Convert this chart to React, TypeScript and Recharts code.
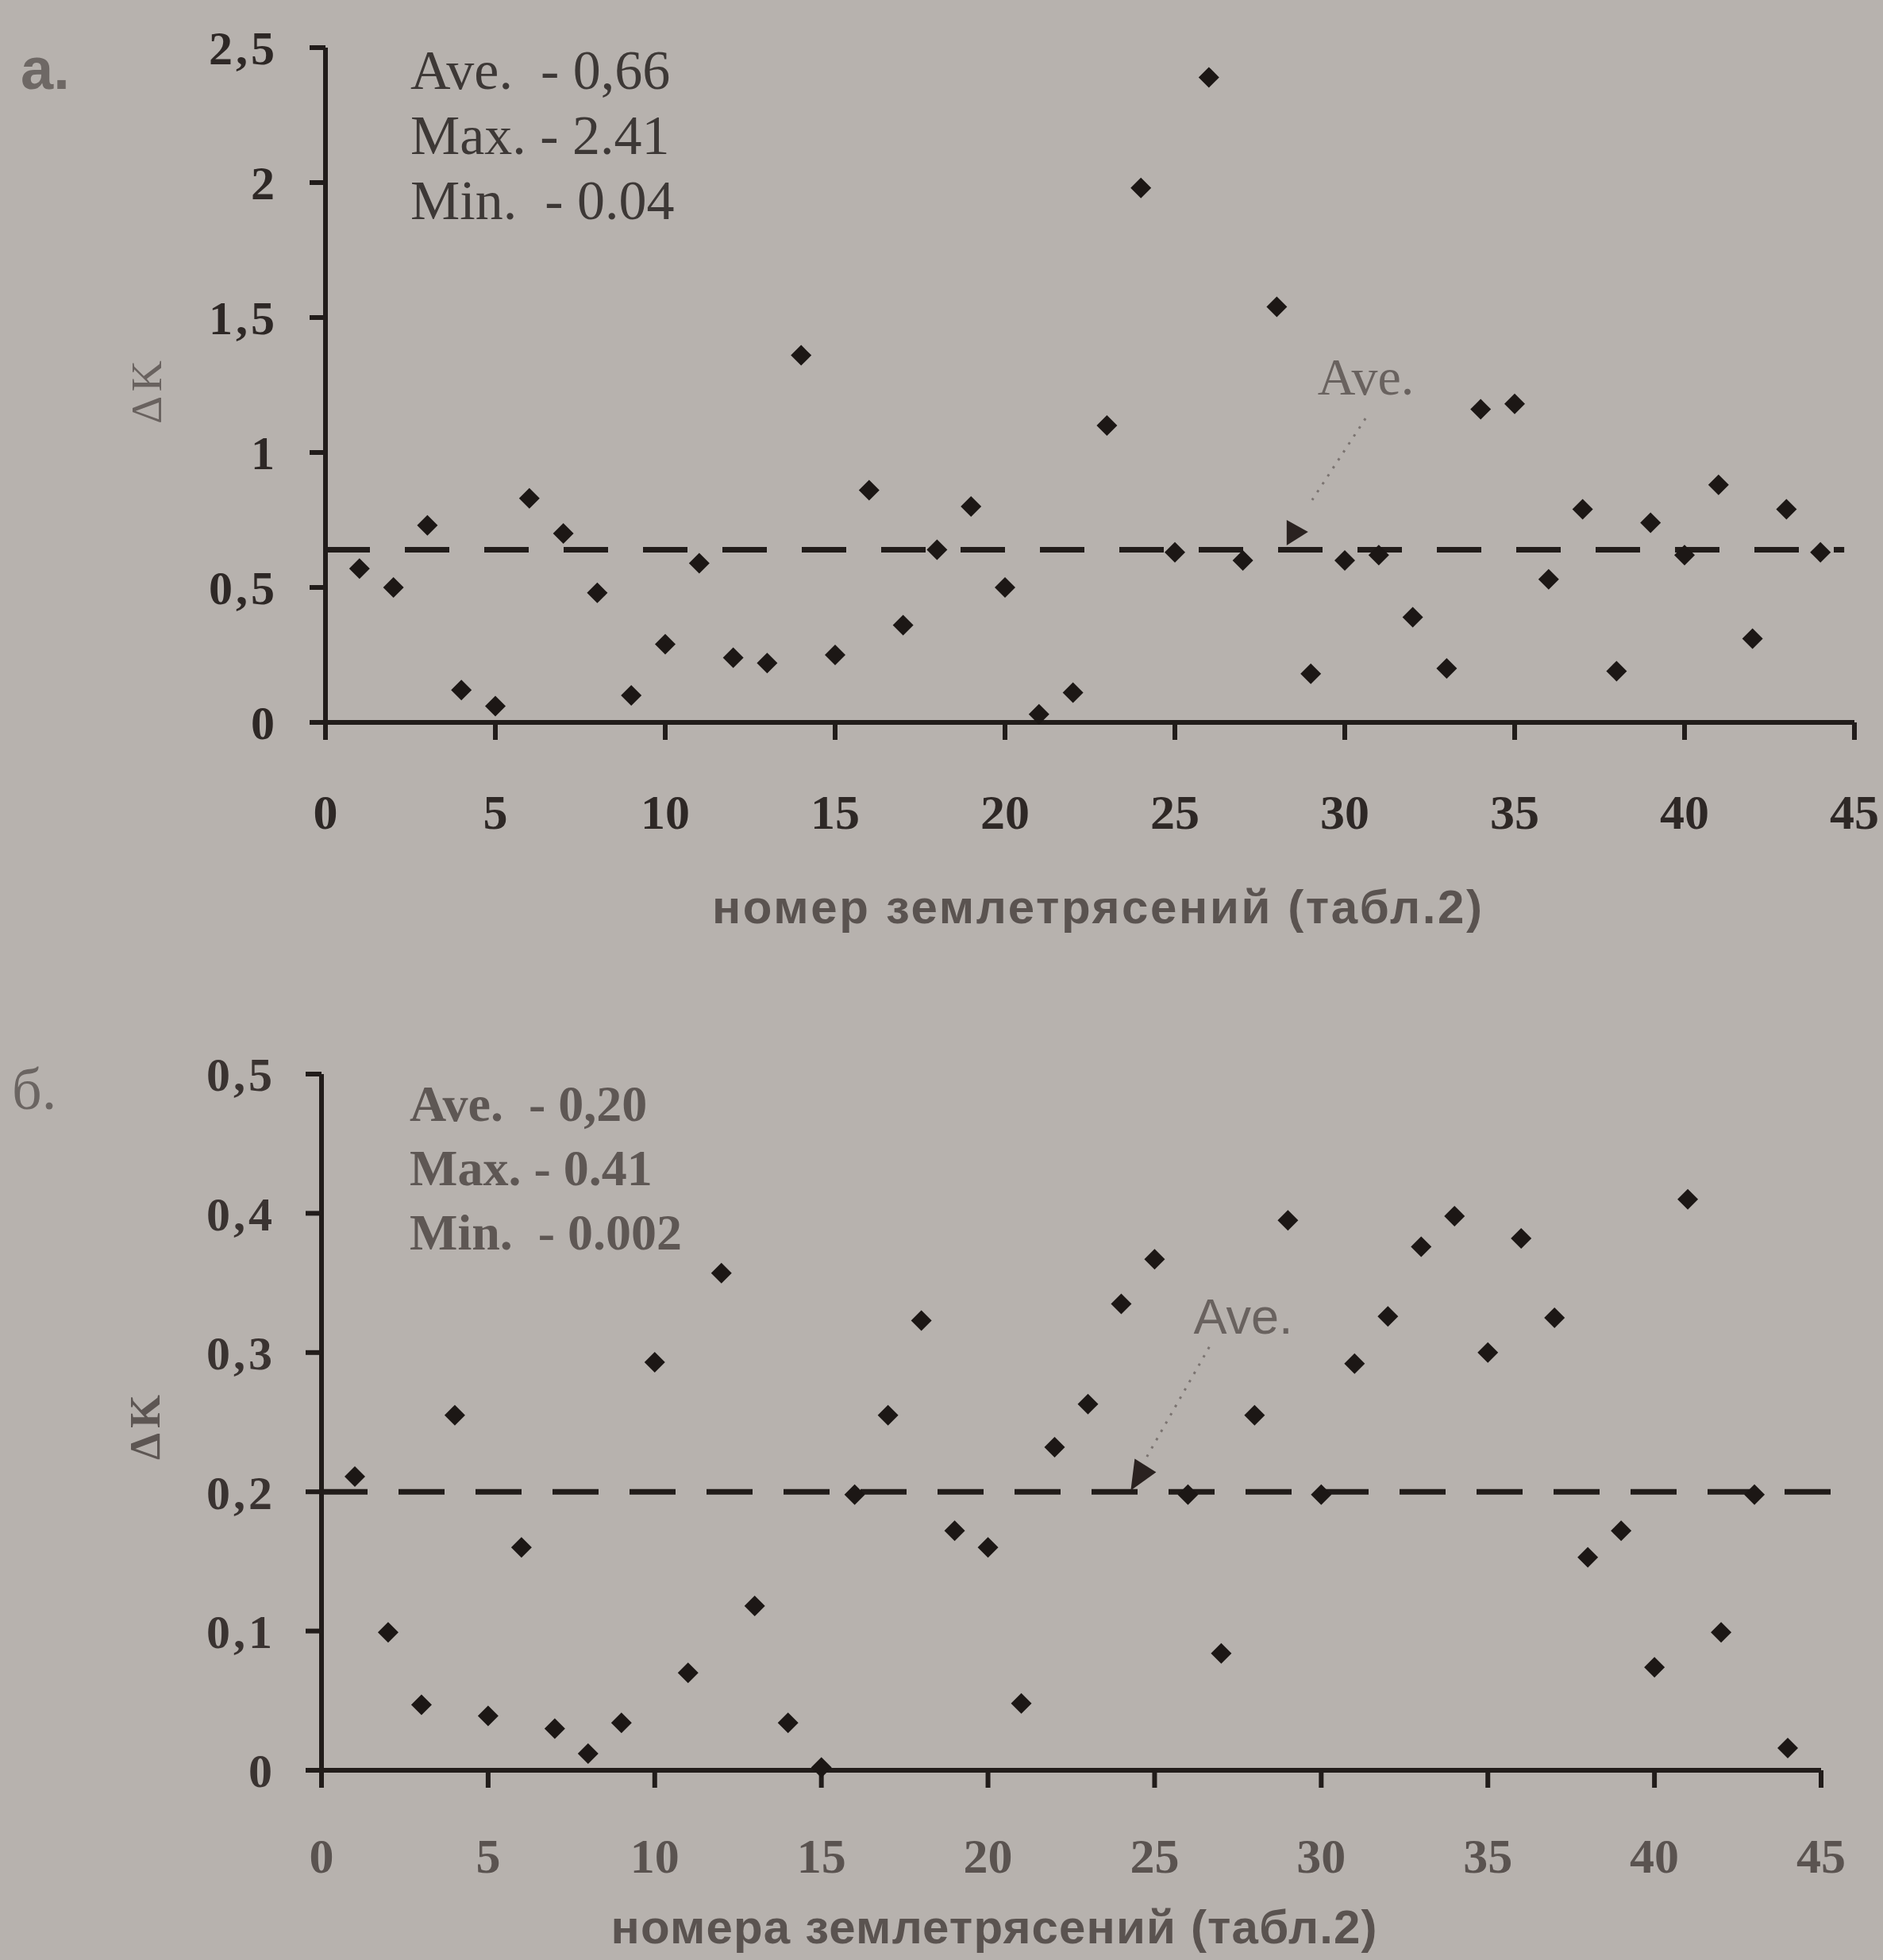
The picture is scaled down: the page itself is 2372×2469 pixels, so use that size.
import { ScatterChart, Scatter, XAxis, YAxis, ReferenceLine, ReferenceDot } from 'recharts';

// earthquake numbers (табл.2)
const quakeNo = [
  1, 2, 3, 4, 5, 6, 7, 8, 9, 10, 11, 12, 13, 14, 15, 16, 17, 18, 19, 20, 21, 22,
  23, 24, 25, 26, 27, 28, 29, 30, 31, 32, 33, 34, 35, 36, 37, 38, 39, 40, 41, 42, 43, 44,
];

// panel а.
const deltaKA = [
  0.57, 0.5, 0.73, 0.12, 0.06, 0.83, 0.7, 0.48, 0.1, 0.29, 0.59, 0.24, 0.22, 1.36, 0.25, 0.86,
  0.36, 0.64, 0.8, 0.5, 0.03, 0.11, 1.1, 1.98, 0.63, 2.39, 0.6, 1.54, 0.18, 0.6, 0.62, 0.39,
  0.2, 1.16, 1.18, 0.53, 0.79, 0.19, 0.74, 0.62, 0.88, 0.31, 0.79, 0.63,
];

// panel б.
const deltaKB = [
  0.211, 0.099, 0.047, 0.255, 0.039, 0.16, 0.03, 0.012, 0.034, 0.293, 0.07, 0.357, 0.118, 0.034,
  0.002, 0.198, 0.255, 0.323, 0.172, 0.16, 0.048, 0.232, 0.263, 0.335, 0.367, 0.198, 0.084,
  0.255, 0.395, 0.198, 0.292, 0.326, 0.376, 0.398, 0.3, 0.382, 0.325, 0.153, 0.172, 0.074,
  0.41, 0.099, 0.198, 0.016,
];

const xTicks = [0, 5, 10, 15, 20, 25, 30, 35, 40, 45];
const yTicksA = [0, 0.5, 1, 1.5, 2, 2.5];
const yTicksB = [0, 0.1, 0.2, 0.3, 0.4, 0.5];

const statsA = ['Ave.  - 0,66', 'Max. - 2.41', 'Min.  - 0.04'];
const statsB = ['Ave.  - 0,20', 'Max. - 0.41', 'Min.  - 0.002'];

const aveA = 0.64;
const aveB = 0.2;

const dataA = quakeNo.map((n, i) => ({ x: n, y: deltaKA[i] }));
const dataB = quakeNo.map((n, i) => ({ x: n, y: deltaKB[i] }));

const INK = '#211c1a';
const SERIF = "'Liberation Serif', 'Times New Roman', serif";
const SANS = "'Liberation Sans', Arial, sans-serif";

const comma = (v: number) => String(v).replace('.', ',');

const Diamond = (props: any) => {
  const { cx, cy } = props;
  const s = 13;
  return <path d={`M${cx},${cy - s}L${cx + s},${cy}L${cx},${cy + s}L${cx - s},${cy}Z`} fill="#1c1715" />;
};

const arrowHeadA = (p: any) => (
  <path d={`M${p.cx - 12},${p.cy - 15}L${p.cx + 15},${p.cy}L${p.cx - 12},${p.cy + 17}Z`} fill="#2a2220" />
);
const arrowHeadB = (p: any) => (
  <path d={`M${p.cx - 7},${p.cy - 19}L${p.cx + 20},${p.cy - 2}L${p.cx - 12},${p.cy + 21}Z`} fill="#2a2220" />
);

const App = () => {
  return (
    <div style={{ position: 'absolute', left: 0, top: 0, width: 2372, height: 2469, background: '#b7b2ae', overflow: 'hidden' }}>
      <div style={{ position: 'absolute', left: 0, top: 0 }}>
        <ScatterChart width={2372} height={1230} margin={{ top: 60, right: 36, bottom: 200, left: 0 }}>
          <XAxis
            type="number"
            dataKey="x"
            domain={[0, 45]}
            ticks={xTicks}
            interval={0}
            height={120}
            tickSize={22}
            tickMargin={68}
            axisLine={{ stroke: INK, strokeWidth: 6 }}
            tickLine={{ stroke: INK, strokeWidth: 6 }}
            tick={{ fill: '#2e2826', fontSize: 62, fontFamily: SERIF, fontWeight: 700 }}
          />
          <YAxis
            type="number"
            dataKey="y"
            domain={[0, 2.5]}
            ticks={yTicksA}
            interval={0}
            width={410}
            tickSize={20}
            tickMargin={40}
            tickFormatter={comma}
            axisLine={{ stroke: INK, strokeWidth: 6 }}
            tickLine={{ stroke: INK, strokeWidth: 6 }}
            tick={{ fill: '#2e2826', fontSize: 60, fontFamily: SERIF, fontWeight: 700, letterSpacing: 4 }}
          />
          <ReferenceLine
            segment={[{ x: 0, y: aveA }, { x: 44.7, y: aveA }]}
            stroke={INK}
            strokeWidth={7}
            strokeDasharray="56 44"
            ifOverflow="visible"
          />
          <ReferenceLine
            segment={[{ x: 30.61, y: 1.126 }, { x: 29.04, y: 0.824 }]}
            stroke="#7a7370"
            strokeWidth={3}
            strokeDasharray="3 9"
            ifOverflow="visible"
          />
          <ReferenceDot x={28.57} y={0.706} r={0} shape={arrowHeadA} ifOverflow="visible" />
          <ReferenceDot
            x={29.2}
            y={1.216}
            r={0}
            ifOverflow="visible"
            shape={(p: any) => (
              <text x={p.cx} y={p.cy} fill="#69625f" fontSize={66} fontFamily={SERIF}>
                Ave.
              </text>
            )}
          />
          <Scatter data={dataA} shape={Diamond} isAnimationActive={false} />
        </ScatterChart>
      </div>

      <div style={{ position: 'absolute', left: 0, top: 1230 }}>
        <ScatterChart width={2372} height={1239} margin={{ top: 123, right: 78, bottom: 119, left: 0 }}>
          <XAxis
            type="number"
            dataKey="x"
            domain={[0, 45]}
            ticks={xTicks}
            interval={0}
            height={120}
            tickSize={22}
            tickMargin={63}
            axisLine={{ stroke: INK, strokeWidth: 6 }}
            tickLine={{ stroke: INK, strokeWidth: 6 }}
            tick={{ fill: '#5a5350', fontSize: 62, fontFamily: SERIF, fontWeight: 700 }}
          />
          <YAxis
            type="number"
            dataKey="y"
            domain={[0, 0.5]}
            ticks={yTicksB}
            interval={0}
            width={405}
            tickSize={20}
            tickMargin={38}
            tickFormatter={comma}
            axisLine={{ stroke: INK, strokeWidth: 6 }}
            tickLine={{ stroke: INK, strokeWidth: 6 }}
            tick={{ fill: '#3a3331', fontSize: 60, fontFamily: SERIF, fontWeight: 700, letterSpacing: 4 }}
          />
          <ReferenceLine
            segment={[{ x: 0, y: aveB }, { x: 45.5, y: aveB }]}
            stroke={INK}
            strokeWidth={7}
            strokeDasharray="58 39"
            ifOverflow="visible"
          />
          <ReferenceLine
            segment={[{ x: 26.64, y: 0.304 }, { x: 24.74, y: 0.224 }]}
            stroke="#7a7370"
            strokeWidth={3}
            strokeDasharray="3 9"
            ifOverflow="visible"
          />
          <ReferenceDot x={24.57} y={0.213} r={0} shape={arrowHeadB} ifOverflow="visible" />
          <ReferenceDot
            x={26.17}
            y={0.3136}
            r={0}
            ifOverflow="visible"
            shape={(p: any) => (
              <text x={p.cx} y={p.cy} fill="#69625f" fontSize={63} fontFamily={SANS}>
                Ave.
              </text>
            )}
          />
          <Scatter data={dataB} shape={Diamond} isAnimationActive={false} />
        </ScatterChart>
      </div>

      <svg width={2372} height={2469} style={{ position: 'absolute', left: 0, top: 0, pointerEvents: 'none' }}>
        <text x={26} y={112} fill="#6e6865" fontSize={74} fontFamily={SANS} fontWeight={700}>
          а.
        </text>
        {statsA.map((s, i) => (
          <text key={s} x={517} y={112 + i * 82} fill="#3d3836" fontSize={70} fontFamily={SERIF} style={{ whiteSpace: 'pre' }}>
            {s}
          </text>
        ))}
        <text
          x={0}
          y={0}
          transform="translate(203,491) rotate(-90)"
          textAnchor="middle"
          fill="#69625f"
          fontSize={54}
          fontFamily={SERIF}
          letterSpacing={6}
        >
          ΔK
        </text>
        <text
          x={1382}
          y={1163}
          textAnchor="middle"
          fill="#5a5350"
          fontSize={60}
          fontFamily={SANS}
          fontWeight={700}
          textLength={970}
          lengthAdjust="spacing"
        >
          номер землетрясений (табл.2)
        </text>

        <text x={15} y={1397} fill="#6b6562" fontSize={74} fontFamily={SERIF}>
          б.
        </text>
        {statsB.map((s, i) => (
          <text key={s} x={516} y={1412 + i * 81} fill="#5e5754" fontSize={64} fontFamily={SERIF} fontWeight={700} style={{ whiteSpace: 'pre' }}>
            {s}
          </text>
        ))}
        <text
          x={0}
          y={0}
          transform="translate(201,1795) rotate(-90)"
          textAnchor="middle"
          fill="#5d5653"
          fontSize={54}
          fontFamily={SERIF}
          fontWeight={700}
          letterSpacing={6}
        >
          ΔK
        </text>
        <text
          x={1252}
          y={2448}
          textAnchor="middle"
          fill="#5a5350"
          fontSize={60}
          fontFamily={SANS}
          fontWeight={700}
          textLength={965}
          lengthAdjust="spacing"
        >
          номера землетрясений (табл.2)
        </text>
      </svg>
    </div>
  );
};

export default App;
